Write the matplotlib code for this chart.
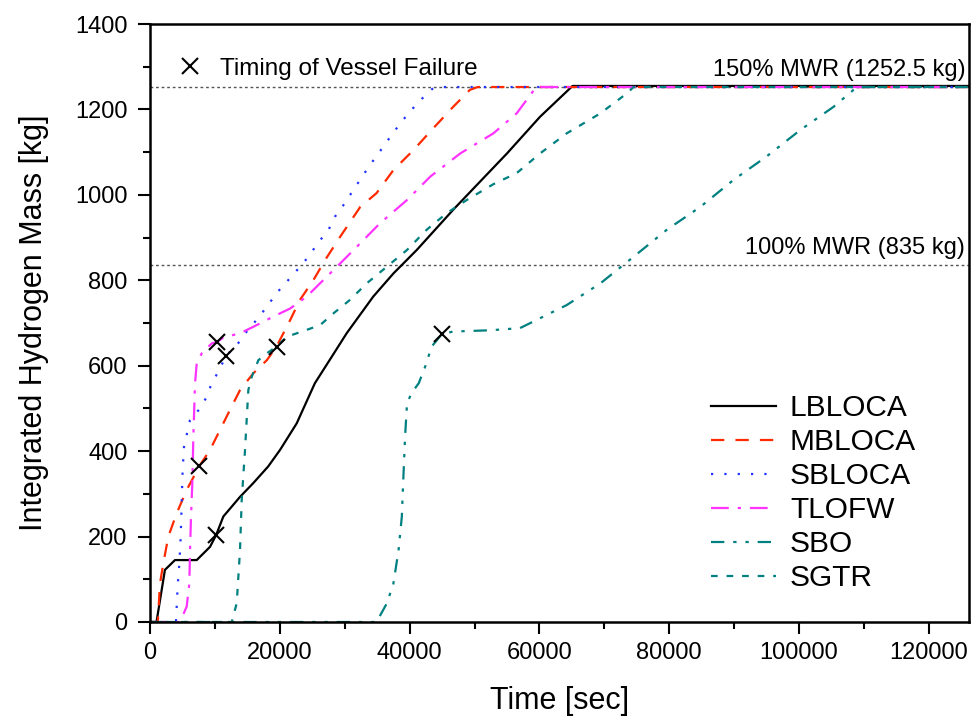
import numpy as np
import matplotlib.pyplot as plt
from matplotlib.lines import Line2D
from matplotlib.ticker import MultipleLocator

plt.rcParams['font.family'] = ['Liberation Sans', 'DejaVu Sans']

# LBLOCA
lb_t = [0, 1000, 2300, 3850, 7200, 9250, 10200, 11300, 13870, 15900, 18200, 20040,
        22600, 25400, 28000, 30300, 34400, 37500, 41100, 46700, 55000, 60100, 65100, 126000]
lb_m = [0, 0, 122, 145, 145, 176, 204, 247, 293, 325, 364, 403,
        465, 559, 621, 676, 762, 816, 871, 965, 1097, 1183, 1255, 1255]

# MBLOCA
mb_t = [0, 1200, 1540, 2050, 2820, 4100, 5650, 7600, 9250, 10800, 12300, 13870, 15900,
        18000, 19500, 21600, 23100, 25200, 27000, 29300, 32400, 34900, 37500, 40600,
        43400, 46700, 49300, 50500, 126000]
mb_m = [0, 0, 90, 137, 200, 254, 309, 365, 403, 450, 496, 543, 582,
        613, 645, 707, 754, 801, 848, 902, 972, 1004, 1058, 1105,
        1152, 1206, 1246, 1252.5, 1252.5]

# SBLOCA
sb_t = [0, 4000, 4260, 4520, 4730, 4880, 5030, 5240, 6170, 7600, 8740, 9500, 10530,
        11700, 13360, 14900, 16400, 18000, 19500, 21100, 22900, 24400, 25900, 27500,
        28500, 29800, 31100, 32400, 33800, 35200, 36600, 38000, 39600, 41400, 43400,
        44000, 126000]
sb_m = [0, 0, 83, 137, 200, 278, 356, 410, 473, 498, 527, 559, 586,
        623, 648, 680, 707, 738, 770, 797, 828, 855, 888, 918,
        949, 976, 1006, 1036, 1068, 1097, 1127, 1156, 1187, 1218, 1247,
        1252.5, 1252.5]

# TLOFW
tl_t = [0, 4620, 5650, 6060, 6170, 6320, 6520, 6680, 6940, 7200, 7970, 9500, 10370,
        11300, 13870, 15900, 19000, 21600, 24150, 27200, 28800, 31900, 35400, 39600,
        43200, 47800, 52900, 56500, 59500, 126000]
tl_m = [0, 0, 36, 90, 169, 247, 325, 434, 559, 606, 629, 652, 656,
        666, 676, 691, 715, 734, 762, 808, 832, 879, 933, 988,
        1043, 1097, 1144, 1191, 1252.5, 1252.5]

# SBO
sbo_t = [0, 34900, 36500, 37500, 38300, 38800, 39000, 39300, 39600, 40300, 41400,
         42400, 43400, 44960, 46700, 52400, 57000, 60600, 64200, 69400, 74500, 79600,
         84800, 89900, 95000, 100200, 105300, 108400, 109000, 126000]
sbo_m = [0, 0, 44, 90, 169, 247, 325, 434, 512, 536, 559,
         598, 645, 674, 680, 683, 688, 715, 742, 793, 855, 918,
         972, 1035, 1090, 1152, 1206, 1246, 1252.5, 1252.5]

# SGTR
sg_t = [0, 12600, 13360, 13870, 14130, 14640, 15150, 15670, 16700, 18000, 19500,
        21100, 24150, 26200, 28300, 30800, 33400, 36500, 39600, 42600, 45700, 48800,
        52900, 56500, 60100, 64200, 69400, 73500, 74500, 126000]
sg_m = [0, 0, 44, 169, 286, 403, 543, 574, 613, 629, 645,
        668, 684, 695, 723, 754, 793, 832, 871, 918, 957, 988,
        1025, 1051, 1097, 1144, 1191, 1238, 1252.5, 1252.5]

# timing of vessel failure
vf_t = [10170, 7600, 11700, 10370, 44960, 19500]
vf_m = [204, 365, 623, 656, 674, 645]

mwr_levels = [1252.5, 835]
mwr_labels = ['150% MWR (1252.5 kg)', '100% MWR (835 kg)']

fig = plt.figure(figsize=(9.74, 7.17), dpi=100)
ax = fig.add_axes([0.154, 0.1325, 0.841, 0.834])

for lvl, txt in zip(mwr_levels, mwr_labels):
    ax.axhline(lvl, color='#555555', lw=1, ls=(0, (2, 2)), zorder=1)
    ax.text(125600, lvl + 14, txt, ha='right', va='bottom', fontsize=17)

ax.plot(lb_t, lb_m, color='black', lw=1.6, ls='-', label='LBLOCA')
ax.plot(mb_t, mb_m, color='#FF2A00', lw=1.6, ls=(0, (6, 5)), label='MBLOCA')
ax.plot(sb_t, sb_m, color='#2233FF', lw=1.6, ls=(0, (1, 5)), label='SBLOCA')
ax.plot(tl_t, tl_m, color='#FF33FF', lw=1.6, ls=(0, (8, 4, 1.5, 4)), label='TLOFW')
ax.plot(sbo_t, sbo_m, color='#008080', lw=1.6, ls=(0, (6, 4, 1.5, 4, 1.5, 4)), label='SBO')
ax.plot(sg_t, sg_m, color='#008080', lw=1.6, ls=(0, (3, 4)), label='SGTR')

ax.plot(vf_t, vf_m, ls='none', marker='x', color='black', ms=11, mew=1.5, zorder=5)

leg = ax.legend(loc='lower right', bbox_to_anchor=(0.968, 0.005), frameon=False,
                fontsize=21.5, handlelength=2.2, labelspacing=0.2, handletextpad=0.45)
ax.add_artist(leg)
vf_handle = Line2D([], [], ls='none', marker='x', color='black', ms=11, mew=1.5)
ax.legend([vf_handle], ['Timing of Vessel Failure'], loc='upper left',
          bbox_to_anchor=(0.0, 0.98), frameon=False, fontsize=17.5,
          handlelength=1.5, handletextpad=0.5)

ax.set_xlim(0, 126200)
ax.set_ylim(0, 1400)
ax.xaxis.set_major_locator(MultipleLocator(20000))
ax.xaxis.set_minor_locator(MultipleLocator(10000))
ax.yaxis.set_major_locator(MultipleLocator(200))
ax.yaxis.set_minor_locator(MultipleLocator(100))
ax.tick_params(which='major', length=8.6, width=1.5, labelsize=17, direction='out')
ax.tick_params(which='minor', length=5, width=1.5, direction='out')
ax.tick_params(axis='x', which='major', pad=5.5)
ax.tick_params(axis='y', which='major', pad=7.5)
for s in ax.spines.values():
    s.set_linewidth(1.8)

ax.set_xlabel('Time [sec]', fontsize=22, labelpad=16)
ax.set_ylabel('Integrated Hydrogen Mass [kg]', fontsize=22, labelpad=19)

fig.savefig('out.png', dpi=100)
